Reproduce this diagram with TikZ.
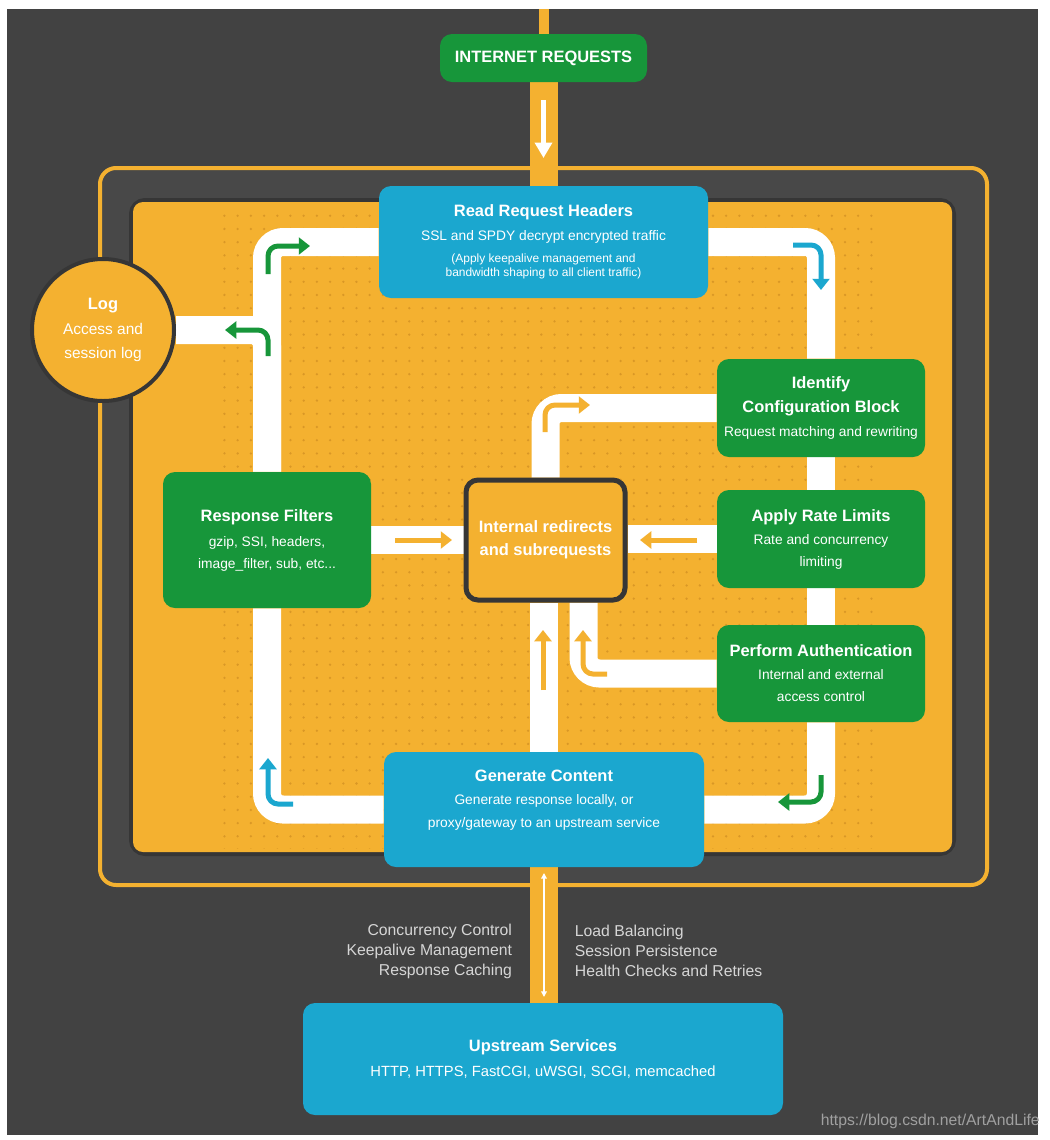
\documentclass[tikz,border=0pt]{standalone}
\usepackage{fontspec}
\setmainfont{Liberation Sans}
\usetikzlibrary{arrows.meta,patterns.meta}

\newlength{\px}
\setlength{\px}{0.025cm}

\definecolor{gelb}{HTML}{F4B130}
\definecolor{gruen}{HTML}{17963A}
\definecolor{blau}{HTML}{1BA7CF}
\definecolor{hgrau}{HTML}{424242}
\definecolor{innen}{HTML}{484848}
\definecolor{dunkel}{HTML}{363636}
\definecolor{punkte}{HTML}{D99726}
\definecolor{textgrau}{HTML}{D6D6D6}
\definecolor{wmgrau}{HTML}{A0A0A0}

\newcommand{\titel}{\bfseries\fontsize{11.7}{10}\selectfont}
\newcommand{\klein}{\fontsize{8.5}{10}\selectfont}

\pgfdeclarelayer{hinten}
\pgfdeclarelayer{mitte}
\pgfsetlayers{hinten,mitte,main}

\begin{document}
\begin{tikzpicture}
		[
		x=0.025cm, y=-0.025cm, font=\fontsize{9.8}{10}\selectfont, >=latex,
		%Voreinstellungen
		kasten/.style={rounded corners=12\px, text=white, align=center, inner sep=0pt},
		band/.style={white, line width=28\px, rounded corners=16\px},
		balken/.style={gelb, line width=28\px},
		pfeil/.style={line width=5\px, rounded corners=10\px, -{Triangle[length=8pt, width=12pt]}},
		seitentext/.style={text=textgrau, font=\fontsize{11.2}{14.2}\selectfont}
		]
		
		\useasboundingbox (0,0) rectangle (1050,1140);
		
		%Hintergrund
		\begin{pgfonlayer}{hinten}
		\fill[white] (0,0) rectangle (1050,1140);
		\fill[hgrau] (7,9) rectangle (1038,1135);
		
		%Rahmen aussen
		\draw[gelb, fill=innen, line width=4\px, rounded corners=16\px] (100,168) rectangle (987,885);
		
		%Innenflaeche mit Punkten
		\draw[dunkel, line width=8\px, rounded corners=12\px] (133,202) rectangle (952,852);
		\fill[gelb, rounded corners=10\px] (133,202) rectangle (952,852);
		\fill[pattern={Dots[distance=0.33cm, radius=0.9pt]}, pattern color=punkte] (215,206) rectangle (875,848);
		\end{pgfonlayer}
		
		%Kaesten
		\node[kasten, fill=gruen, minimum width=207\px, minimum height=48\px, font=\titel] (inet) at (543.5,58) {INTERNET REQUESTS};
		
		\node[kasten, fill=blau, minimum width=329\px, minimum height=112\px] (rrh) at (543.5,242) {{\titel Read Request Headers}\\[7pt] SSL and SPDY decrypt encrypted traffic\\[5.6pt] {\klein (Apply keepalive management and}\\ {\klein bandwidth shaping to all client traffic)}};
		
		\node[circle, fill=gelb, draw=dunkel, line width=4\px, minimum size=142\px, text=white, align=center, inner sep=0pt, font=\fontsize{11}{10}\selectfont] (log) at (103,330) {{\titel Log}\\[6.4pt] Access and\\[7pt] session log};
		
		\node[kasten, fill=gruen, minimum width=208\px, minimum height=136\px] (rf) at (267,540) {{\titel Response Filters}\\[7.8pt] gzip, SSI, headers,\\[5.6pt] image\_filter, sub, etc...};
		
		\node[kasten, fill=gelb, draw=dunkel, line width=5\px, minimum width=159\px, minimum height=120\px] (ir) at (545.5,540) {{\titel Internal redirects}\\[6.4pt] {\titel and subrequests}};
		
		\node[kasten, fill=gruen, minimum width=208\px, minimum height=98\px] (icb) at (821,408) {{\titel Identify}\\[5.6pt] {\titel Configuration Block}\\[7pt] Request matching and rewriting};
		
		\node[kasten, fill=gruen, minimum width=208\px, minimum height=98\px] (arl) at (821,539) {{\titel Apply Rate Limits}\\[6.4pt] Rate and concurrency\\[5.6pt] limiting};
		
		\node[kasten, fill=gruen, minimum width=208\px, minimum height=97\px] (pa) at (821,673.5) {{\titel Perform Authentication}\\[6.4pt] Internal and external\\[5.6pt] access control};
		
		\node[kasten, fill=blau, minimum width=320\px, minimum height=115\px] (gc) at (544,809.5) {};
		\node[text=white, align=center] (gctext) at (544,800) {{\titel Generate Content}\\[6.4pt] Generate response locally, or\\[6.4pt] proxy/gateway to an upstream service};
		
		\node[kasten, fill=blau, minimum width=480\px, minimum height=112\px, font=\fontsize{10.5}{10}\selectfont] (up) at (543,1059) {{\titel Upstream Services}\\[6.4pt] HTTP, HTTPS, FastCGI, uWSGI, SCGI, memcached};
		
		%Texte unten
		\node[seitentext, anchor=east, align=right] (links) at (517,951) {Concurrency Control\\Keepalive Management\\Response Caching};
		\node[seitentext, anchor=west, align=left] (rechts) at (570,951) {Load Balancing\\Session Persistence\\Health Checks and Retries};
		
		%Wasserzeichen
		\node[anchor=east, text=wmgrau, inner sep=0pt, font=\fontsize{11.2}{12}\selectfont] (wm) at (1040,1121) {https://blog.csdn.net/ArtAndLife};
		
		%Wege und Balken
		\coordinate (oben) at (543.5,9);
		\begin{pgfonlayer}{mitte}
		\draw[gelb, line width=10\px] (oben) -- (inet.north);
		\draw[balken] (inet.south) -- (rrh.north);
		\draw[balken] (gc.south) -- (gc.south |- up.north);
		
		\draw[band] (rrh.west) -| (rf.north);
		\draw[band] (log.east) -| (rf.north);
		\draw[band] (rrh.east) -| (icb.north);
		\draw[band] (icb.south) -- (arl.north);
		\draw[band] (arl.south) -- (pa.north);
		\draw[band] (pa.south) |- (gc.east);
		\draw[band] (rf.south) |- (gc.west);
		\draw[band] (icb.west) -| (ir.north);
		\draw[band] (rf.east) -- (ir.west);
		\draw[band] (arl.west) -- (arl.west -| ir.east);
		\draw[band] (gc.north) -- (gc.north |- ir.south);
		\draw[band] (pa.west) -| ([xshift=38\px]ir.south);
		\end{pgfonlayer}
		
		%Pfeile
		\draw[white, line width=5\px, -{Triangle[length=11pt, width=12pt]}] (543.5,100) -- (543.5,158);
		\draw[white, line width=2\px, {Triangle[length=4pt, width=4pt]}-{Triangle[length=4pt, width=4pt]}] (544,873) -- (544,997);
		
		\draw[pfeil, gruen] (268,274) |- (310,246);
		\draw[pfeil, gruen] (268,356) |- (225,330);
		\draw[pfeil, blau] (793,245) -| (821,290);
		\draw[pfeil, gruen] (821,775) |- (778,802);
		\draw[pfeil, blau] (293,804) -| (268,758);
		\draw[pfeil, gelb] (545,432) |- (590,405);
		\draw[pfeil, gelb] (395,540) -- (452,540);
		\draw[pfeil, gelb] (697,540) -- (640,540);
		\draw[pfeil, gelb] (543,690) -- (543,630);
		\draw[pfeil, gelb] (607,674) -| (583,630);
		
\end{tikzpicture}
\end{document}
